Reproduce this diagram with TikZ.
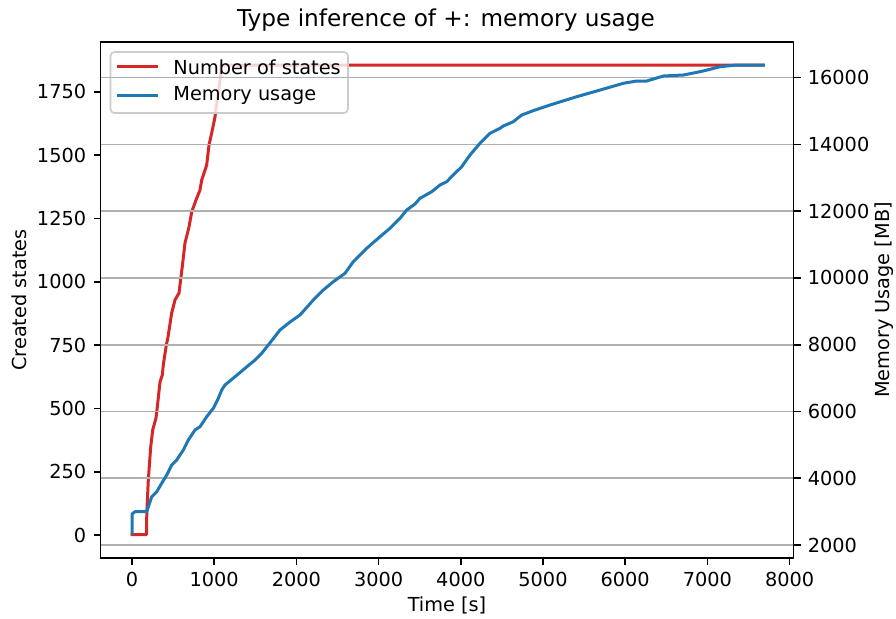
\documentclass[tikz,border=0pt]{standalone}
\usepackage{fontspec}
\setmainfont{DejaVu Sans}
\definecolor{tabred}{HTML}{D62728}
\definecolor{tabblue}{HTML}{1F77B4}
\definecolor{gridgray}{HTML}{B0B0B0}
\definecolor{legedge}{HTML}{CCCCCC}
\begin{document}
\begin{tikzpicture}[x=0.5pt,y=-0.5pt,
  every node/.style={font=\fontsize{9.65}{11.5}\selectfont, inner sep=0pt},
  spine/.style={line width=0.8pt, black},
  tickmark/.style={line width=0.8pt, black},
  gridline/.style={line width=0.8pt, gridgray},
  redcurve/.style={line width=1.5pt, tabred, line join=round, line cap=rect},
  bluecurve/.style={line width=1.5pt, tabblue, line join=round, line cap=rect},
  legbox/.style={draw=legedge, line width=0.8pt, fill=white, fill opacity=0.8, rounded corners=2pt}
]
\useasboundingbox (0,0) rectangle (896,618);
% red curve: number of states
\draw[redcurve] (132,534.5) -- (146.5,534.5) -- (146.8,513) -- (148.3,480) -- (150.7,447) -- (152.7,430) -- (156,418) -- (157.3,407) -- (160,382) -- (162.3,375) -- (163.3,365) -- (166,347) -- (168,337) -- (171.7,313) -- (175,300) -- (179,293) -- (181,277) -- (182.7,263) -- (185,243) -- (189,227) -- (191.7,212) -- (196,200) -- (200,190) -- (201.7,180) -- (206.7,165) -- (209,145) -- (211.7,133) -- (215,117) -- (217,102) -- (219,88) -- (220.7,75) -- (221,65) -- (763,65);
% legend box
\draw[legbox] (110.5,52) rectangle (348,113);
\coordinate (lr1) at (117,66.5); \coordinate (lr2) at (158,66.5);
\coordinate (lb1) at (117,95); \coordinate (lb2) at (158,95);
\draw[redcurve, line cap=butt] (lr1) -- (lr2);
\draw[bluecurve, line cap=butt] (lb1) -- (lb2);
\node[anchor=west] (legred) at (173,67) {Number of states};
\node[anchor=west] (legblue) at (173,95.5) {Memory usage};
% grid (right axis)
\foreach \k in {0,...,7} {
  \draw[gridline] (100.5,{545-66.76*\k}) -- (793.5,{545-66.76*\k});
}
% blue curve: memory usage
\draw[bluecurve] (132,533) -- (132,514) -- (135,511.7) -- (146.7,511.7) -- (151.7,496.7) -- (156.7,491.7) -- (161.7,483.3) -- (166.7,475) -- (171.7,465) -- (176.7,460) -- (183.3,450) -- (188.3,440) -- (195,430) -- (200,426.7) -- (206.7,416.7) -- (213.3,408.3) -- (218.3,398.3) -- (221.7,390) -- (225,385) -- (235,376.7) -- (245,368.3) -- (255,360) -- (261.7,353.3) -- (268.3,345) -- (280,330) -- (290,322) -- (300,315) -- (313.3,300) -- (323.3,290) -- (333.3,281.7) -- (345,273.3) -- (353.3,261.7) -- (366.7,248.3) -- (380,236.7) -- (390,228.3) -- (400,218.3) -- (406.7,210) -- (415,204) -- (420,198.3) -- (431.7,191.7) -- (440,185) -- (446.7,181.7) -- (453.3,175) -- (461.7,166.7) -- (470,155) -- (480,143.3) -- (490,133.3) -- (500,128.3) -- (503.3,126) -- (513.3,121.7) -- (521.7,115) -- (535,110) -- (550,105) -- (576.7,96.7) -- (596.7,91) -- (623.3,83.3) -- (636.7,81) -- (646.7,81) -- (663.3,76) -- (683.3,75) -- (700,71.7) -- (710,69.3) -- (720,66.7) -- (736.7,65) -- (763.3,65);
% frame
\draw[spine] (100.5,42) rectangle (793.5,558);
% bottom ticks
\foreach \k/\lab in {0/0,1/1000,2/2000,3/3000,4/4000,5/5000,6/6000,7/7000,8/8000} {
  \draw[tickmark] ({132+82.2*\k},558) -- ({132+82.2*\k},565);
  \node[anchor=north] (xt\k) at ({132+82.2*\k},572) {\lab};
}
% left ticks
\foreach \k/\lab in {0/0,1/250,2/500,3/750,4/1000,5/1250,6/1500,7/1750} {
  \draw[tickmark] (100.5,{535-63.3*\k}) -- (93.5,{535-63.3*\k});
  \node[anchor=east] (yl\k) at (86.5,{535-63.3*\k}) {\lab};
}
% right ticks
\foreach \k/\lab in {0/2000,1/4000,2/6000,3/8000,4/10000,5/12000,6/14000,7/16000} {
  \draw[tickmark] (793.5,{545-66.76*\k}) -- (800.5,{545-66.76*\k});
  \node[anchor=west] (yr\k) at (807.5,{545-66.76*\k}) {\lab};
}
% labels
\node (xlabel) at (447,605) {Time [s]};
\node[rotate=90] (ylabel) at (19,300) {Created states};
\node[rotate=90] (y2label) at (884,300) {Memory Usage [MB]};
\node[font=\fontsize{11.6}{14}\selectfont] (title) at (446,20) {Type inference of +: memory usage};
\end{tikzpicture}
\end{document}
